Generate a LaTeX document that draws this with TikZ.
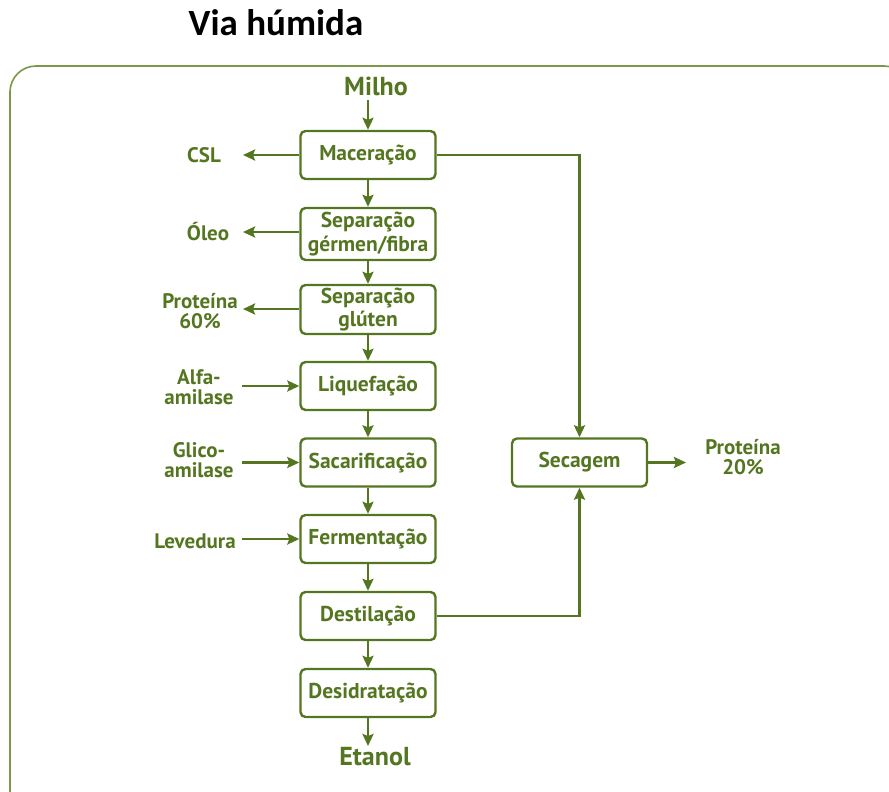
\documentclass[tikz,border=0pt]{standalone}
\usepackage{fontspec}
\setmainfont{PT Sans}
\newfontfamily\titlefont{Carlito}
\usetikzlibrary{arrows.meta}
\definecolor{dgreen}{RGB}{84,118,32}
\definecolor{fgreen}{RGB}{122,152,72}
\tikzset{
  stepbox/.style={draw=dgreen, line width=2.4pt, rounded corners=5pt, minimum width=135pt, minimum height=48pt, inner sep=0pt, align=center, text=dgreen, font=\bfseries\fontsize{21.5}{23.5}\selectfont},
  lbl/.style={text=dgreen, align=center, inner sep=0pt, font=\bfseries\fontsize{21}{20}\selectfont},
  big/.style={text=dgreen, inner sep=0pt, font=\bfseries\fontsize{26}{30}\selectfont},
  flow/.style={draw=dgreen, line width=2.4pt, -{Stealth[length=12pt,width=11pt,inset=2pt]}},
  plain/.style={draw=dgreen, line width=2.4pt},
}
\begin{document}
\begin{tikzpicture}[x=1pt,y=-1pt]
\useasboundingbox (0,0) rectangle (889,792);
\begin{scope}
\clip (0,0) rectangle (889,792);
\draw[fgreen, line width=1.6pt, rounded corners=26pt] (10,66) rectangle (910,820);
\end{scope}
\node[font=\titlefont\bfseries\fontsize{37}{40}\selectfont, anchor=base] (title) at (276,36) {Via húmida};

\node[big] (milho) at (376,86) {Milho};
\node[stepbox] (mac) at (368,155) {Maceração};
\node[stepbox, minimum height=52pt] (sgf) at (368,234) {Separação\\gérmen/fibra};
\node[stepbox, minimum height=49pt] (sgl) at (368,309.5) {Separação\\glúten};
\node[stepbox] (liq) at (368,386) {Liquefação};
\node[stepbox] (sac) at (368,462.5) {Sacarificação};
\node[stepbox] (fer) at (368,539) {Fermentação};
\node[stepbox] (des) at (368,616) {Destilação};
\node[stepbox] (dsi) at (368,693) {Desidratação};
\node[big] (etanol) at (375,757) {Etanol};
\node[stepbox] (sec) at (579.5,462.5) {Secagem};

\node[lbl] (csl) at (204,155) {CSL};
\node[lbl] (oleo) at (208,232) {Óleo};
\node[lbl] (p60) at (200,311) {Proteína\\60\%};
\node[lbl] (alfa) at (199,387) {Alfa-\\amilase};
\node[lbl] (glico) at (199,460) {Glico-\\amilase};
\node[lbl] (lev) at (195,541) {Levedura};
\node[lbl] (p20) at (743,457) {Proteína\\20\%};

\coordinate (milhoA) at (368,100);
\coordinate (etanolA) at (368,746);
\coordinate (cslA) at (243,155);
\coordinate (oleoA) at (243,232);
\coordinate (p60A) at (243,309);
\coordinate (alfaA) at (242,386);
\coordinate (glicoA) at (242,462.5);
\coordinate (levA) at (242,539);
\coordinate (p20A) at (686,462.5);
\coordinate (topcorner) at (579.5,155);
\coordinate (botcorner) at (579.5,616);

\draw[flow] (milhoA) -- (mac.north);
\draw[flow] (mac) -- (sgf);
\draw[flow] (sgf) -- (sgl);
\draw[flow] (sgl) -- (liq);
\draw[flow] (liq) -- (sac);
\draw[flow] (sac) -- (fer);
\draw[flow] (fer) -- (des);
\draw[flow] (des) -- (dsi);
\draw[flow] (dsi) -- (etanolA);

\draw[flow] (mac.west) -- (cslA);
\draw[flow] (sgf.west |- oleoA) -- (oleoA);
\draw[flow] (sgl.west |- p60A) -- (p60A);
\draw[flow] (alfaA) -- (liq.west);
\draw[flow] (glicoA) -- (sac.west);
\draw[flow] (levA) -- (fer.west);

\draw[flow] (mac.east) -- (topcorner) -- (sec.north);
\draw[flow] (des.east) -- (botcorner) -- (sec.south);
\draw[flow] (sec.east) -- (p20A);
\end{tikzpicture}
\end{document}
